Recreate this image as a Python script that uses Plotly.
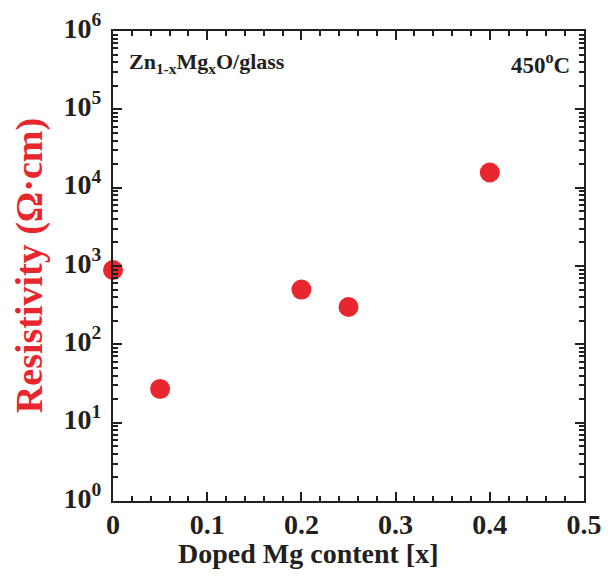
import plotly.graph_objects as go

mg_content = [0.0, 0.05, 0.2, 0.25, 0.4]
resistivity = [890, 27, 500, 300, 15600]
x_tick_vals = [0, 0.1, 0.2, 0.3, 0.4, 0.5]
x_tick_text = ["0", "0.1", "0.2", "0.3", "0.4", "0.5"]
y_tick_vals = [1, 10, 100, 1000, 10000, 100000, 1000000]
y_tick_text = ["10<sup>0</sup>", "10<sup>1</sup>", "10<sup>2</sup>", "10<sup>3</sup>",
               "10<sup>4</sup>", "10<sup>5</sup>", "10<sup>6</sup>"]
x_minor_vals = [i / 50 for i in range(26) if i % 5]
y_minor_vals = [m * 10 ** k for k in range(6) for m in range(2, 10)]

red = "#e8262d"
ink = "#231f20"
font = "Liberation Serif"

fig = go.Figure()
fig.add_trace(go.Scatter(x=mg_content, y=resistivity, mode="markers",
                         marker=dict(color=red, size=20, line=dict(width=0)),
                         cliponaxis=False, showlegend=False, hoverinfo="skip"))

common = dict(ticks="inside", ticklen=9, tickwidth=2, tickcolor=ink,
              showline=True, linecolor=ink, linewidth=2, mirror="ticks",
              showgrid=False, zeroline=False, automargin=False)

fig.update_layout(
    width=612, height=581,
    margin=dict(l=113, r=28, t=31, b=80, autoexpand=False),
    plot_bgcolor="white", paper_bgcolor="white",
    font=dict(family=font, color=ink),
    xaxis=dict(range=[0, 0.5], tickmode="array", tickvals=x_tick_vals, ticktext=x_tick_text,
               tickfont=dict(family=font, size=28, color=ink, weight="bold"),
               ticklabelstandoff=-3,
               minor=dict(ticks="inside", ticklen=5, tickmode="array", tickvals=x_minor_vals,
                          tickwidth=1.5, tickcolor=ink, showgrid=False),
               **common),
    yaxis=dict(type="log", range=[0, 6], tickmode="array", tickvals=y_tick_vals, ticktext=y_tick_text,
               tickfont=dict(family=font, size=28, color=ink, weight="bold"),
               ticklabelstandoff=4, ticklabelshift=-3,
               minor=dict(ticks="inside", ticklen=5, tickmode="array", tickvals=y_minor_vals,
                          tickwidth=1.5, tickcolor=ink, showgrid=False),
               **common),
    annotations=[
        dict(text="<b>Resistivity (Ω·cm)</b>", xref="paper", yref="paper",
             x=-0.178, y=0.5, xanchor="center", yanchor="middle", textangle=-90,
             showarrow=False, font=dict(family=font, size=38, color=red)),
        dict(text="<b>Doped Mg content [x]</b>", xref="paper", yref="paper",
             x=0.416, y=-0.112, xanchor="center", yanchor="middle", showarrow=False,
             font=dict(family=font, size=28, color=ink)),
        dict(text="<b>Zn<sub>1-x</sub>Mg<sub>x</sub>O/glass</b>", xref="paper", yref="paper",
             x=0.03, y=0.965, xanchor="left", yanchor="top", showarrow=False,
             font=dict(family=font, size=22, color=ink)),
        dict(text="<b>450<sup>o</sup>C</b>", xref="paper", yref="paper",
             x=0.975, y=0.965, xanchor="right", yanchor="top", showarrow=False,
             font=dict(family=font, size=23, color=ink)),
    ],
)

fig.write_html("out.html", config={"displayModeBar": False},
               post_script="document.body.style.margin='0px';")
